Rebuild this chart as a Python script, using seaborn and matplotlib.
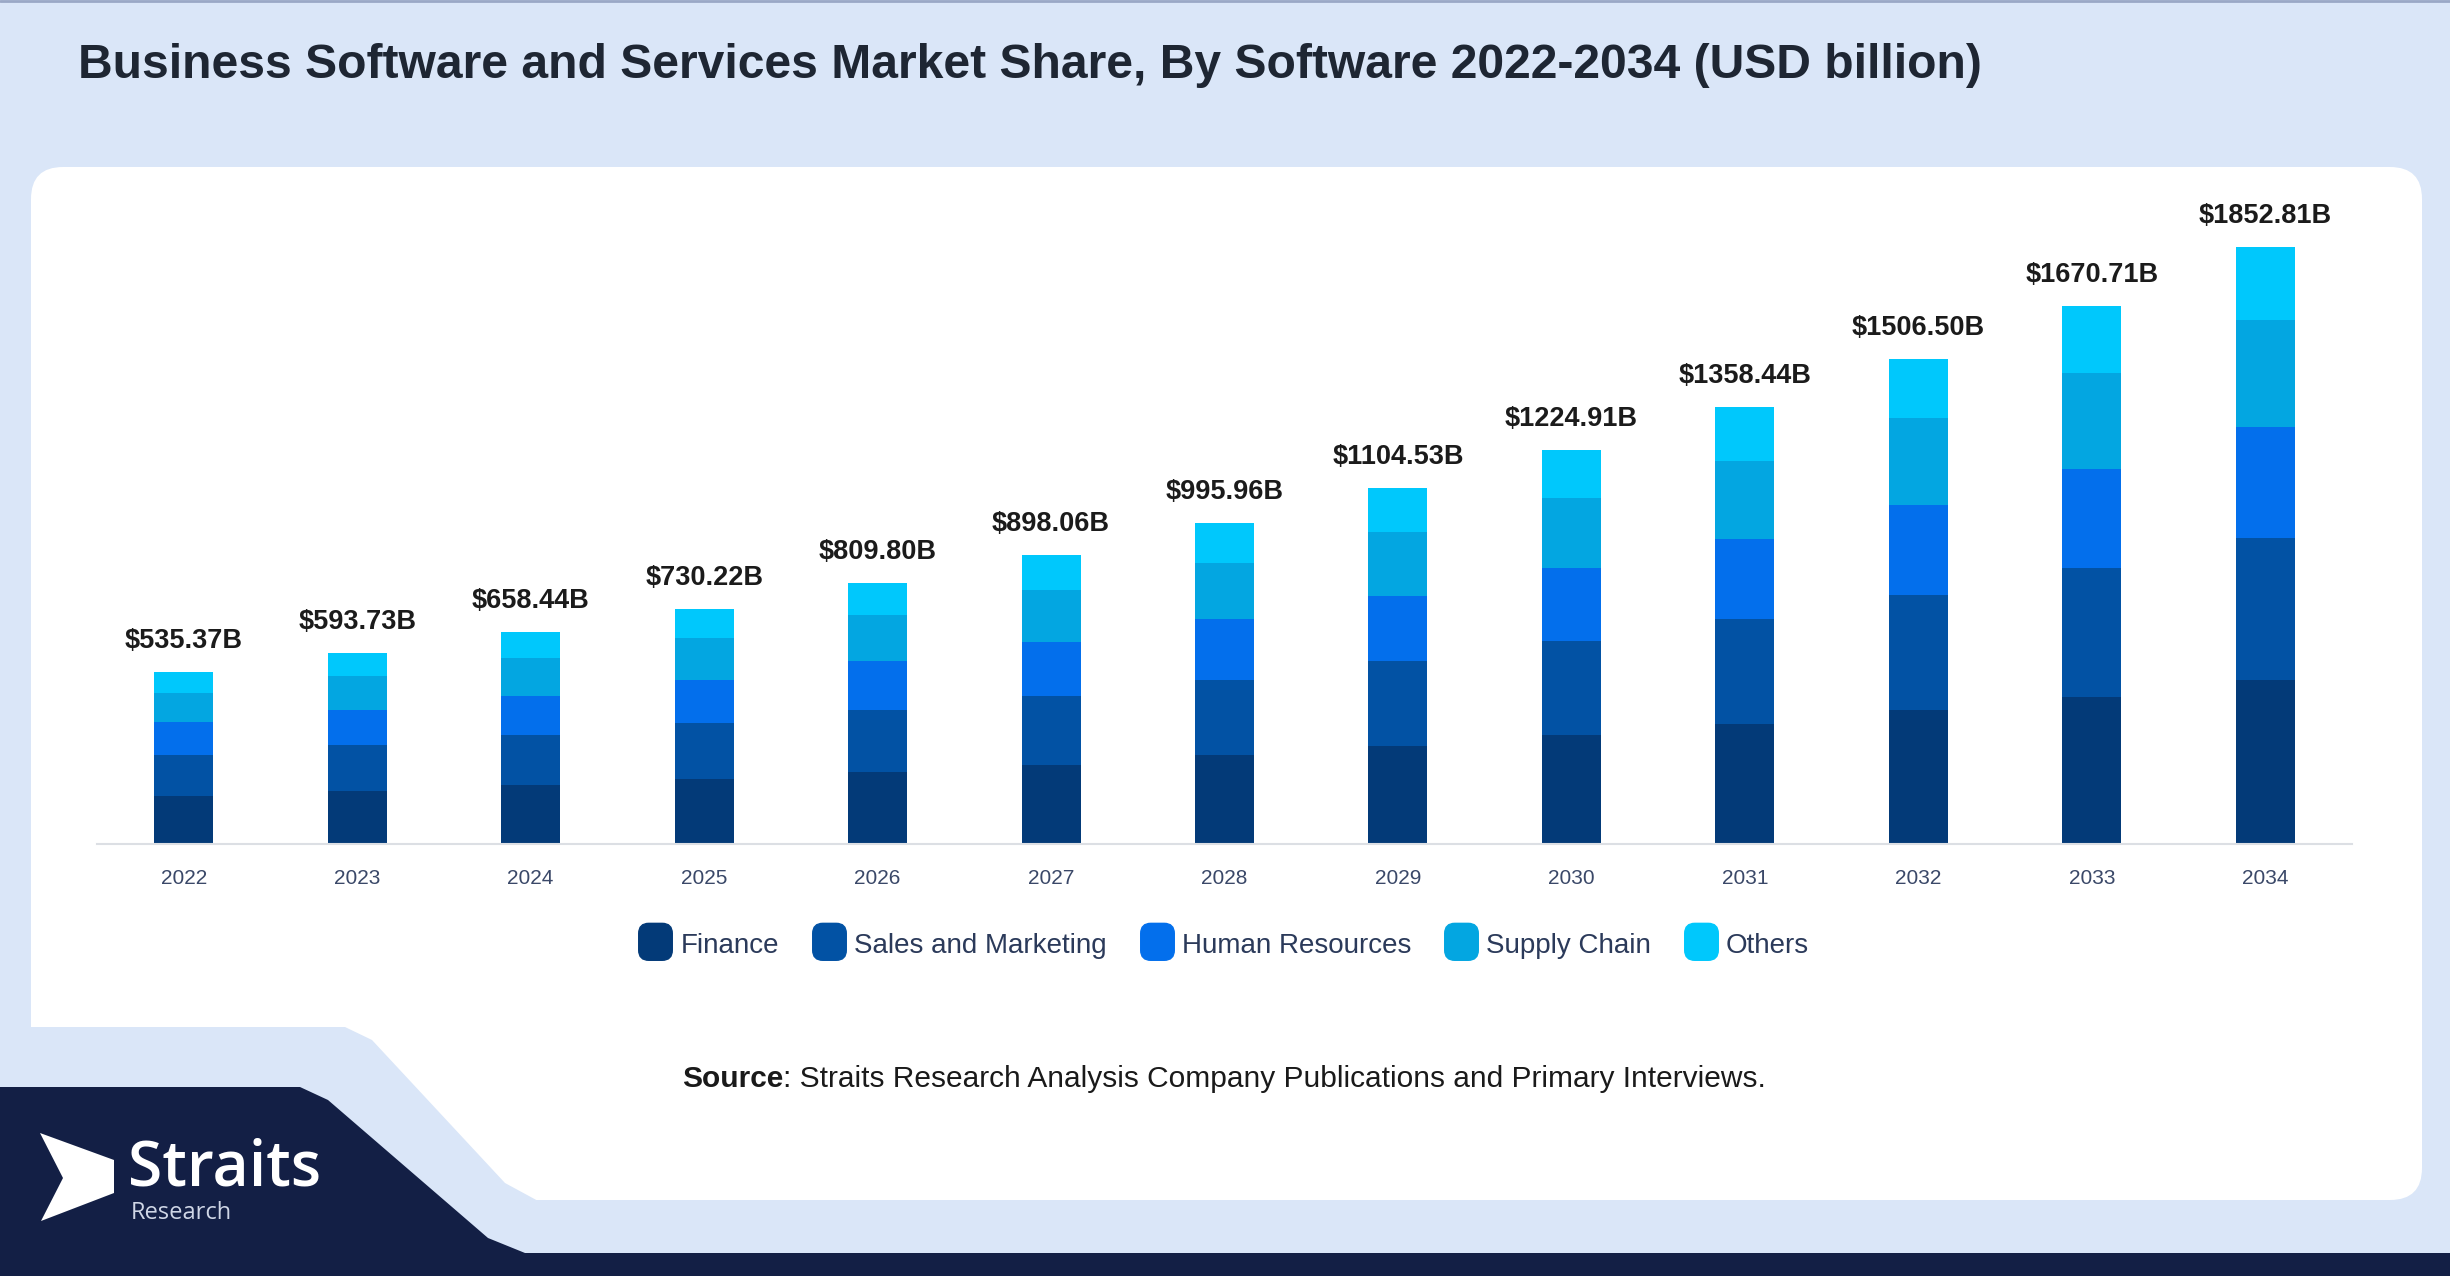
import matplotlib
matplotlib.use("Agg")
import matplotlib.pyplot as plt
import matplotlib.patches as mpatches
from matplotlib.lines import Line2D
import seaborn as sns
import pandas as pd

# ---- data (USD billion) ----
years = ['2022', '2023', '2024', '2025', '2026', '2027', '2028',
         '2029', '2030', '2031', '2032', '2033', '2034']
finance = [149, 165.5, 182.5, 201, 224, 246.5, 275, 305.5, 338, 372.5, 415, 458, 509]
sales = [128.5, 141.5, 155, 175, 191, 213.5, 235.5, 261.5, 292, 325.5, 357, 398, 442]
hr = [100, 109.5, 122.5, 132, 152, 166, 188, 203.5, 227.5, 250.5, 280.5, 310, 343]
supply = [91.9, 105, 117.5, 131, 143, 163, 175, 199.5, 217.5, 242, 269, 298, 334]
others = [66, 72.2, 80.9, 91, 100, 109, 122.5, 134.5, 149.9, 167.9, 185, 206.7, 225]
totals = [535.37, 593.73, 658.44, 730.22, 809.80, 898.06, 995.96,
          1104.53, 1224.91, 1358.44, 1506.50, 1670.71, 1852.81]

segments = ['Finance', 'Sales and Marketing', 'Human Resources', 'Supply Chain', 'Others']
colors = ['#033a78', '#0252a4', '#036fec', '#03a6e1', '#00c8fc']

df = pd.DataFrame({'year': years, 'Finance': finance, 'Sales and Marketing': sales,
                   'Human Resources': hr, 'Supply Chain': supply, 'Others': others})

sns.set_theme(style='white')
plt.rcParams['font.family'] = ['Liberation Sans', 'DejaVu Sans']

W, H = 2450, 1276
bg_blue = '#dae6f8'
navy = '#131f45'
fig = plt.figure(figsize=(W / 100, H / 100), dpi=100, facecolor=bg_blue)

# background decoration, pixel coordinates
bg = fig.add_axes([0, 0, 1, 1], zorder=0)
bg.set_xlim(0, W)
bg.set_ylim(H, 0)
bg.axis('off')
bg.add_patch(mpatches.FancyBboxPatch((31, 167), 2391, 1033,
                                     boxstyle='round,pad=0,rounding_size=32',
                                     fc='white', ec='none'))
bg.add_patch(mpatches.Polygon([(0, 1027), (345, 1027), (372, 1040), (505, 1183),
                               (540, 1202), (620, 1202), (620, H), (0, H)],
                              closed=True, fc=bg_blue, ec='none'))
bg.add_patch(mpatches.Polygon([(0, 1087), (300, 1087), (328, 1100), (488, 1238),
                               (525, 1253), (W, 1253), (W, H), (0, H)],
                              closed=True, fc=navy, ec='none'))
bg.plot([0, W], [1, 1], color='#9aa8c6', lw=2)

# logo
bg.add_patch(mpatches.Polygon([(40, 1133), (114, 1160), (114, 1193), (41, 1221), (63, 1178)],
                              closed=True, fc='white', ec='none'))
bg.text(128, 1185, 'Straits', color='white', fontsize=45, fontweight='semibold',
        family='Open Sans', va='baseline', ha='left')
bg.text(131, 1219, 'Research', color='#cfd6e6', fontsize=17,
        family='Open Sans', va='baseline', ha='left')

# title
fig.text(78 / W, 1 - 66 / H, 'Business Software and Services Market Share, By Software 2022-2034 (USD billion)',
         fontsize=34.6, fontweight='bold', color='#1e2633', va='center', ha='left')

# source line
bg.text(783, 1079, 'Source', fontweight='bold', fontsize=21.5, color='#1a1a1a', ha='right', va='center')
bg.text(783, 1079, ': Straits Research Analysis Company Publications and Primary Interviews.',
        fontsize=21.5, color='#1a1a1a', ha='left', va='center')

# ---- chart ----
ax = fig.add_axes([97 / W, 1 - 844 / H, (2352 - 97) / W, 644 / H], zorder=1)
ax.set_facecolor('none')

# stacked bars: draw cumulative heights from top segment down
cum = df[segments].cumsum(axis=1)
for seg, col in reversed(list(zip(segments, colors))):
    sns.barplot(x=df['year'], y=cum[seg], color=col, width=0.34, saturation=1,
                linewidth=0, ax=ax)

for i, t in enumerate(totals):
    ax.annotate(f'${t:.2f}B', (i, t), xytext=(0, 13), textcoords='offset points',
                ha='center', va='bottom', fontsize=19.5, fontweight='bold', color='#1b1b1b')

ax.set_xlim(-0.5, 12.5)
ax.set_ylim(0, 2000)
ax.set_xlabel('')
ax.set_ylabel('')
ax.set_yticks([])
sns.despine(ax=ax, left=True)
ax.spines['bottom'].set_color('#dcdfe4')
ax.spines['bottom'].set_linewidth(1.5)
ax.tick_params(axis='x', length=0, pad=18, labelsize=15, labelcolor='#3a4868')

rr = mpatches.FancyBboxPatch((-0.5, -0.5), 1, 1.1, boxstyle='round,pad=0,rounding_size=0.3').get_path()
handles = [Line2D([], [], marker=rr, ms=29, linestyle='', color=c, mec=c) for c in colors]
ax.legend(handles, segments, loc='center', bbox_to_anchor=(0.5, -0.158), ncol=5,
          frameon=False, fontsize=20, labelcolor='#2b3a5a', handlelength=1.1,
          handletextpad=0.35, columnspacing=1.25)

fig.savefig('out.png', dpi=100, facecolor=bg_blue)
